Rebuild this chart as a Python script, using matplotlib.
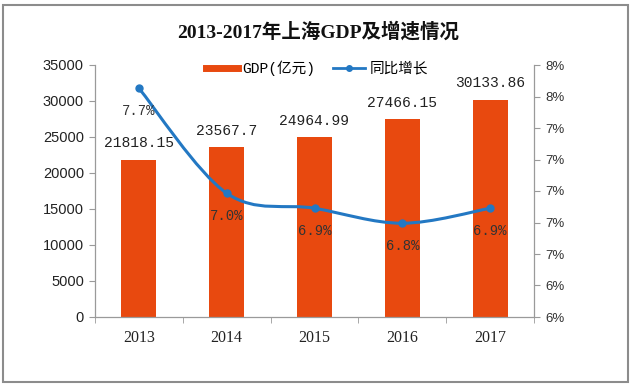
import matplotlib.pyplot as plt
import numpy as np
from matplotlib.path import Path
from matplotlib.patches import PathPatch, Rectangle
from matplotlib.lines import Line2D

# data
years = ['2013', '2014', '2015', '2016', '2017']
gdp = [21818.15, 23567.7, 24964.99, 27466.15, 30133.86]
growth = [7.7, 7.0, 6.9, 6.8, 6.9]
gdp_labels = ['21818.15', '23567.7', '24964.99', '27466.15', '30133.86']
growth_labels = ['7.7%', '7.0%', '6.9%', '6.8%', '6.9%']

bar_color = '#E8490F'
line_color = '#2378C3'
axis_grey = '#9a9a9a'
mono = ['Liberation Mono', 'Noto Sans CJK SC']

fig = plt.figure(figsize=(6.37, 3.89), dpi=100)
ax = fig.add_axes([95 / 637, 1 - 317 / 389, 439 / 637, 252 / 389])
ax2 = ax.twinx()

x = np.arange(len(years))
ax.bar(x, gdp, width=0.4, color=bar_color, zorder=2)
ax.set_xlim(-0.5, len(years) - 0.5)
ax.set_ylim(0, 35000)
ax.set_yticks(np.arange(0, 35001, 5000))

for xi, v, lab in zip(x, gdp, gdp_labels):
    ax.annotate(lab, (xi, v), xytext=(0, 12), textcoords='offset points',
                ha='center', va='center', fontsize=10.5, family=mono,
                color='#222222')

# smoothed line (Catmull-Rom -> cubic bezier through the data points)
pts = np.column_stack([x, growth]).astype(float)
ext = np.vstack([pts[0], pts, pts[-1]])
verts = [tuple(pts[0])]
codes = [Path.MOVETO]
for i in range(len(pts) - 1):
    p0, p1, p2, p3 = ext[i], ext[i + 1], ext[i + 2], ext[i + 3]
    c1 = p1 + (p2 - p0) / 6
    c2 = p2 - (p3 - p1) / 6
    verts += [tuple(c1), tuple(c2), tuple(p2)]
    codes += [Path.CURVE4] * 3
ax2.add_patch(PathPatch(Path(verts, codes), facecolor='none',
                        edgecolor=line_color, lw=2.2, zorder=3))
ax2.plot(x, growth, 'o', color=line_color, ms=5, zorder=4)

ax2.set_ylim(6.175, 7.855)
ax2.set_yticks(np.linspace(6.175, 7.855, 9))
ax2.set_yticklabels(['%.0f%%' % t for t in np.linspace(6.175, 7.855, 9)])

for xi, v, lab in zip(x, growth, growth_labels):
    ax2.annotate(lab, (xi, v), xytext=(0, -16.5), textcoords='offset points',
                 ha='center', va='center', fontsize=10, family=mono,
                 color='#333333')

# axes styling
for a in (ax, ax2):
    a.spines['top'].set_visible(False)
    for s in ('left', 'right', 'bottom'):
        a.spines[s].set_color(axis_grey)
        a.spines[s].set_linewidth(0.9)
ax.spines['right'].set_visible(False)
ax2.spines['left'].set_visible(False)
ax2.spines['bottom'].set_visible(False)

ax.tick_params(axis='y', direction='out', length=4, color=axis_grey,
               labelsize=10.5, labelcolor='#222222', pad=4)
ax2.tick_params(axis='y', direction='out', length=4, color=axis_grey,
                labelsize=9.5, labelcolor='#333333', pad=4)
for lab in ax.get_yticklabels() + ax2.get_yticklabels():
    lab.set_family('Liberation Sans')

ax.set_xticks(x)
ax.set_xticklabels(years, family='Liberation Serif', fontsize=11.5, color='#222222')
ax.set_xticks(np.arange(-0.5, len(years), 1), minor=True)
ax.tick_params(axis='x', which='major', length=0, pad=9)
ax.tick_params(axis='x', which='minor', direction='out', length=4, color=axis_grey)

# title
fig.text(0.5, 1 - 32 / 389, '2013-2017年上海GDP及增速情况', ha='center', va='center',
         fontsize=14, fontweight='bold', family=['Liberation Serif', 'Noto Sans CJK SC'],
         color='#111111')

# legend
handles = [Line2D([], [], color=bar_color, lw=5),
           Line2D([], [], color=line_color, lw=2, marker='o', ms=4)]
fig.legend(handles, ['GDP(亿元)', '同比增长'], loc='center',
           bbox_to_anchor=(317 / 637, 1 - 68 / 389), ncol=2, frameon=False,
           prop={'family': mono, 'size': 10.5}, handlelength=2.2,
           handletextpad=0.3, columnspacing=1.2)

# outer frame
fig.patches.append(Rectangle((3 / 637, 1 - 382 / 389), 625 / 637, 377 / 389,
                             transform=fig.transFigure, fill=False,
                             edgecolor='#8c8c8c', lw=1.5))

fig.savefig('out.png', dpi=100)
